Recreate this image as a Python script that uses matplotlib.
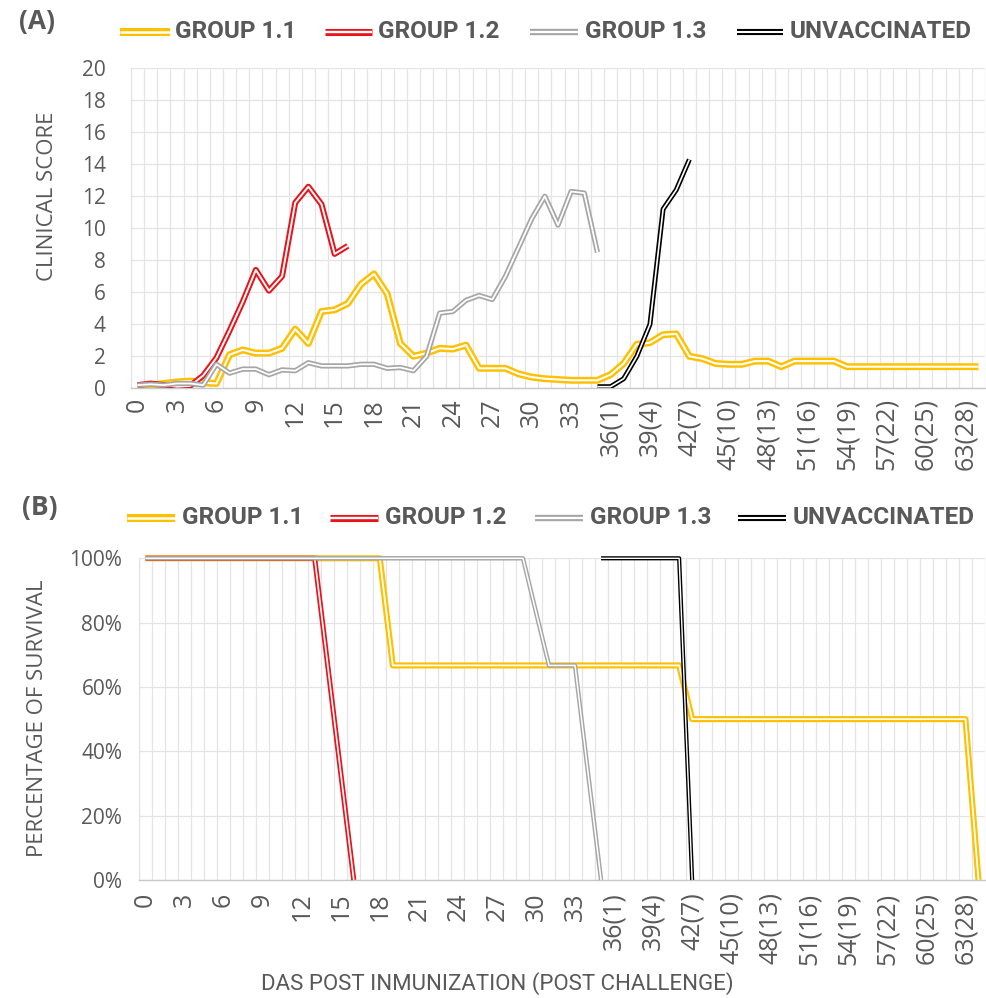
import matplotlib
matplotlib.use("Agg")
import matplotlib.pyplot as plt
import matplotlib.patheffects as pe
from matplotlib.lines import Line2D
import numpy as np

plt.rcParams["font.family"] = ["Open Sans", "DejaVu Sans"]

# ---------------------------------------------------------------- data
# day index of every category on the x axis (challenge on day 35)
days = list(range(65))
tick_labels = ["0", "3", "6", "9", "12", "15", "18", "21", "24", "27", "30", "33",
               "36(1)", "39(4)", "42(7)", "45(10)", "48(13)", "51(16)", "54(19)",
               "57(22)", "60(25)", "63(28)"]

series_names = ["GROUP 1.1", "GROUP 1.2", "GROUP 1.3", "UNVACCINATED"]
series_colors = ["#FFC000", "#E8141C", "#A6A6A6", "#000000"]

# (A) mean clinical score per day
score_g11 = [0.15, 0.2, 0.3, 0.4, 0.45, 0.35, 0.3, 2.1, 2.4, 2.2,
             2.2, 2.5, 3.7, 2.8, 4.8, 4.9, 5.3, 6.5, 7.15, 5.9,
             2.8, 2.0, 2.2, 2.5, 2.45, 2.7, 1.25, 1.25, 1.25, 0.9,
             0.7, 0.6, 0.55, 0.5, 0.5, 0.5, 0.85, 1.55, 2.75, 2.85,
             3.35, 3.4, 2.0, 1.85, 1.55, 1.5, 1.5, 1.7, 1.7, 1.35,
             1.7, 1.7, 1.7, 1.7, 1.35, 1.35, 1.35, 1.35, 1.35, 1.35,
             1.35, 1.35, 1.35, 1.35, 1.35]
score_g12_first_day = 0
score_g12 = [0.2, 0.3, 0.2, 0.1, 0.15, 0.8, 1.9, 3.6, 5.4, 7.4,
             6.1, 7.0, 11.6, 12.6, 11.5, 8.4, 8.9]
score_g13_first_day = 0
score_g13 = [0.2, 0.25, 0.2, 0.3, 0.3, 0.2, 1.5, 0.95, 1.2, 1.2,
             0.85, 1.15, 1.1, 1.6, 1.4, 1.4, 1.4, 1.5, 1.5, 1.25,
             1.3, 1.1, 2.0, 4.7, 4.8, 5.5, 5.8, 5.55, 7.0, 8.8,
             10.6, 12.0, 10.2, 12.3, 12.2, 8.5]
score_unvac_first_day = 35
score_unvac = [0.1, 0.1, 0.6, 2.0, 4.0, 11.2, 12.4, 14.3]

# (B) percentage of survival per day
surv_g11 = [100, 100, 100, 100, 100, 100, 100, 100, 100, 100,
            100, 100, 100, 100, 100, 100, 100, 100, 100, 66.7,
            66.7, 66.7, 66.7, 66.7, 66.7, 66.7, 66.7, 66.7, 66.7, 66.7,
            66.7, 66.7, 66.7, 66.7, 66.7, 66.7, 66.7, 66.7, 66.7, 66.7,
            66.7, 66.7, 50, 50, 50, 50, 50, 50, 50, 50,
            50, 50, 50, 50, 50, 50, 50, 50, 50, 50,
            50, 50, 50, 50, 0]
surv_g12_first_day = 0
surv_g12 = [100, 100, 100, 100, 100, 100, 100, 100, 100, 100,
            100, 100, 100, 100, 66.7, 33.3, 0]
surv_g13_first_day = 0
surv_g13 = [100, 100, 100, 100, 100, 100, 100, 100, 100, 100,
            100, 100, 100, 100, 100, 100, 100, 100, 100, 100,
            100, 100, 100, 100, 100, 100, 100, 100, 100, 100,
            83.3, 66.7, 66.7, 66.7, 33.3, 0]
surv_unvac_first_day = 35
surv_unvac = [100, 100, 100, 100, 100, 100, 100, 0]

# ---------------------------------------------------------------- style
W, H = 986, 998
TEXT = "#595959"
GRID = "#E4E4E4"
AXIS = "#C8C8C8"
NARROW = ["Roboto", "DejaVu Sans"]

# outer / inner widths (pt) of the double-stroke lines
widths = [(5.0, 1.5), (4.3, 1.4), (3.8, 1.3), (3.6, 1.2)]


def double_style(color, outer, inner):
    return dict(color=color, lw=outer, solid_joinstyle="round",
                solid_capstyle="butt",
                path_effects=[pe.Normal(),
                              pe.Stroke(linewidth=inner, foreground="white")])


def fx(px):
    return px / W


def fy(py):
    return 1 - py / H


def setup_axes(ax, ymax, ystep, ypad, xpad):
    ax.set_xlim(-0.5, len(days) - 0.5)
    ax.set_ylim(0, ymax)
    ax.set_xticks(days[::3])
    ax.set_xticklabels(tick_labels, rotation=90, fontsize=18, color=TEXT,
                       va="top", ha="center")
    ax.set_yticks(np.arange(0, ymax + ystep / 2, ystep))
    ax.set_xticks(np.arange(-0.5, len(days), 1), minor=True)
    ax.tick_params(axis="x", which="both", length=0, pad=xpad)
    ax.tick_params(axis="y", which="both", length=0, pad=ypad, labelsize=15,
                   labelcolor=TEXT)
    ax.grid(which="minor", axis="x", color=GRID, lw=0.9)
    ax.grid(which="major", axis="y", color=GRID, lw=0.9)
    ax.grid(which="major", axis="x", visible=False)
    ax.set_axisbelow(True)
    for side in ("top", "right"):
        ax.spines[side].set_visible(False)
    ax.spines["left"].set_color(GRID)
    ax.spines["bottom"].set_color(AXIS)
    ax.spines["left"].set_linewidth(0.9)
    ax.spines["bottom"].set_linewidth(1.0)


def draw_legend(y, handles, text_x):
    for (x0, x1), tx, name, color, (o, i) in zip(handles, text_x, series_names,
                                                 series_colors, widths):
        line = Line2D([fx(x0), fx(x1)], [fy(y), fy(y)],
                      transform=fig.transFigure,
                      **double_style(color, o + 0.8, i + 0.3))
        fig.add_artist(line)
        fig.text(fx(tx), fy(y), name, ha="left", va="center", fontsize=17.5,
                 fontweight="bold", family=NARROW, color=TEXT)


fig = plt.figure(figsize=(W / 100, H / 100), dpi=100)

# ---------------------------------------------------------------- panel A
axA = fig.add_axes([fx(131), fy(388.3), fx(985 - 131), (388.3 - 68.3) / H])
setup_axes(axA, 20, 2, ypad=18, xpad=7)

score_series = [(0, score_g11), (score_g12_first_day, score_g12),
                (score_g13_first_day, score_g13),
                (score_unvac_first_day, score_unvac)]
for k, (start, vals) in enumerate(score_series):
    xs = days[start:start + len(vals)]
    o, i = widths[k]
    axA.plot(xs, vals, zorder=3 + k, **double_style(series_colors[k], o, i))

fig.text(fx(48), fy(196), "CLINICAL SCORE", rotation=90, ha="center",
         va="center", fontsize=16, color=TEXT)
fig.text(fx(37), fy(22), "(A)", ha="center", va="center", fontsize=19,
         fontweight="bold", color=TEXT)
draw_legend(32, [(120, 170), (325, 372), (530, 578), (737, 783)],
            [175, 378, 585, 790])

# ---------------------------------------------------------------- panel B
axB = fig.add_axes([fx(139), fy(880), fx(985 - 139), (880 - 558.3) / H])
setup_axes(axB, 100, 20, ypad=12, xpad=9)
axB.set_yticklabels([f"{v}%" for v in range(0, 101, 20)])

surv_series = [(0, surv_g11), (surv_g12_first_day, surv_g12),
               (surv_g13_first_day, surv_g13),
               (surv_unvac_first_day, surv_unvac)]
for k, (start, vals) in enumerate(surv_series):
    xs = days[start:start + len(vals)]
    o, i = widths[k]
    axB.plot(xs, vals, zorder=3 + k, clip_on=False,
             **double_style(series_colors[k], o - 0.6, i - 0.2))

fig.text(fx(38), fy(718), "PERCENTAGE OF SURVIVAL", rotation=90, ha="center",
         va="center", fontsize=16, color=TEXT)
fig.text(fx(40), fy(507), "(B)", ha="center", va="center", fontsize=19,
         fontweight="bold", color=TEXT)
draw_legend(518, [(127, 175), (330, 378), (535, 583), (738, 786)],
            [182, 385, 590, 793])

fig.text(fx(497), fy(984), "DAS POST INMUNIZATION (POST CHALLENGE)",
         ha="center", va="center", fontsize=16, family=NARROW, color=TEXT)

fig.savefig("out.png", dpi=100)
